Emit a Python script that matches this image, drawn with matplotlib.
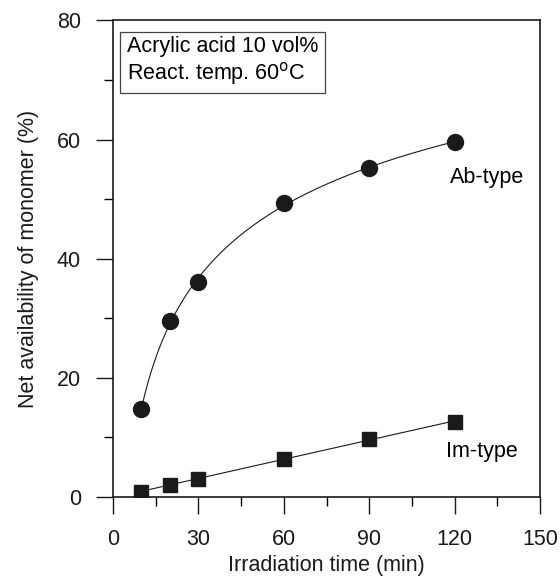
import numpy as np
import matplotlib.pyplot as plt
from matplotlib.ticker import MultipleLocator

plt.rcParams['font.family'] = ['Liberation Sans', 'DejaVu Sans']

# irradiation time (min)
time = [10, 20, 30, 60, 90, 120]
# net availability of monomer (%)
ab_type = [14.8, 29.6, 36.1, 49.3, 55.3, 59.6]
im_type = [0.9, 2.1, 3.0, 6.4, 9.8, 12.6]

fs = 15.5

fig = plt.figure(figsize=(5.6, 5.78), dpi=100)
ax = fig.add_axes([0.2018, 0.1401, 0.7625, 0.8245])

t = np.array(time, dtype=float)

# smooth curve for Ab-type (quadratic in ln t)
c = np.polyfit(np.log(t), ab_type, 2)
tt = np.linspace(10, 120, 200)
ax.plot(tt, np.polyval(c, np.log(tt)), color='#1a1a1a', lw=0.8)

# linear fit for Im-type
m = np.polyfit(t, im_type, 1)
ax.plot(tt, np.polyval(m, tt), color='#1a1a1a', lw=0.8)

ax.plot(time, ab_type, 'o', color='#1a1a1a', ms=11.5, ls='none')
ax.plot(time, im_type, 's', color='#1a1a1a', ms=10, ls='none')

ax.text(118.4, 53.6, 'Ab-type', fontsize=fs, va='center')
ax.text(117, 7.7, 'Im-type', fontsize=fs, va='center')

ax.text(4.8, 77.4, 'Acrylic acid 10 vol%\nReact. temp. 60$^{\\mathrm{o}}$C', fontsize=fs,
        va='top', ha='left', linespacing=1.15,
        bbox=dict(boxstyle='square,pad=0.3', fc='white', ec='#444444', lw=0.9))

ax.set_xlim(0, 150)
ax.set_ylim(0, 80)
ax.xaxis.set_major_locator(MultipleLocator(30))
ax.xaxis.set_minor_locator(MultipleLocator(15))
ax.yaxis.set_major_locator(MultipleLocator(20))
ax.yaxis.set_minor_locator(MultipleLocator(10))
ax.tick_params(which='major', length=12, width=1.0, labelsize=fs, colors='#1a1a1a')
ax.tick_params(which='minor', length=6.5, width=1.0)
ax.tick_params(axis='x', pad=11)
ax.tick_params(axis='y', pad=11)
for s in ax.spines.values():
    s.set_linewidth(1.2)
    s.set_color('#1a1a1a')

ax.set_xlabel('Irradiation time (min)', fontsize=fs, labelpad=3.5, color='#1a1a1a')
ax.set_ylabel('Net availability of monomer (%)', fontsize=fs, labelpad=13, color='#1a1a1a')

fig.savefig('out.png', dpi=100)
